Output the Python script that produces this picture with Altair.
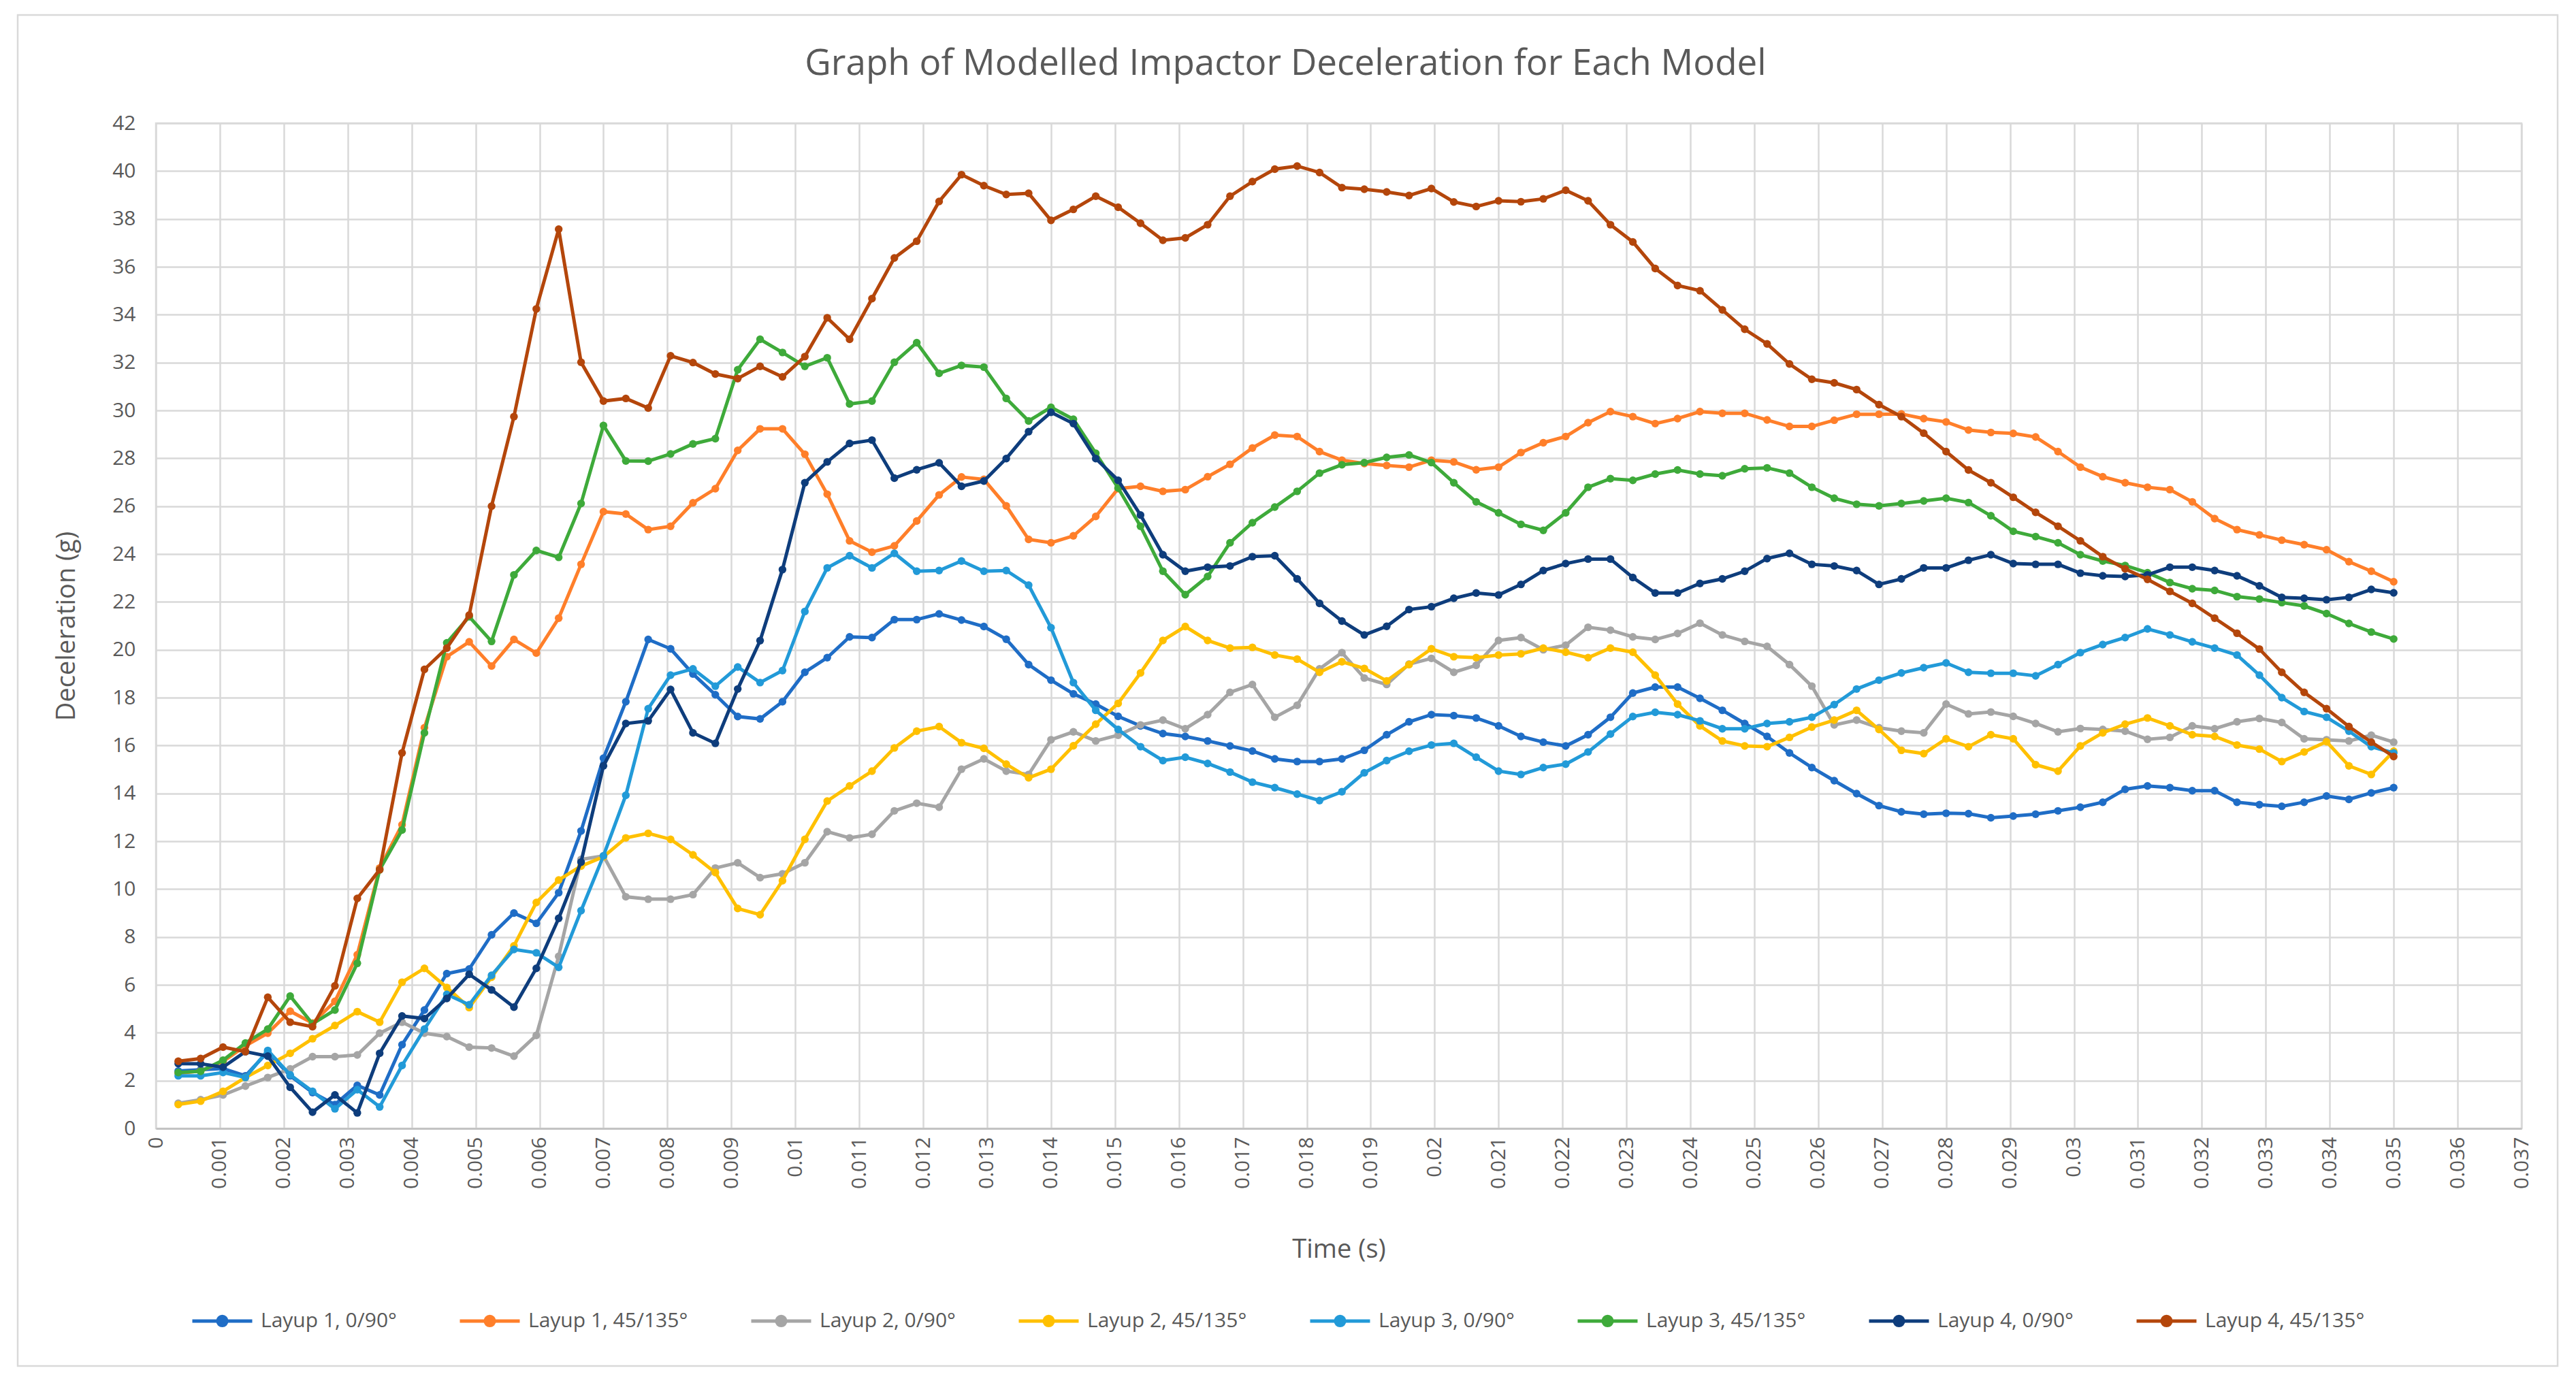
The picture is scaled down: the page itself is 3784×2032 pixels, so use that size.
import altair as alt
import pandas as pd

# ---------------- data ----------------
time_s = [0.00035, 0.0007, 0.00105, 0.0014, 0.00175, 0.0021, 0.00245, 0.0028, 0.00315, 0.0035,
          0.00385, 0.0042, 0.00455, 0.0049, 0.00525, 0.0056, 0.00595, 0.0063, 0.00665, 0.007,
          0.00735, 0.0077, 0.00805, 0.0084, 0.00875, 0.0091, 0.00945, 0.0098, 0.01015, 0.0105,
          0.01085, 0.0112, 0.01155, 0.0119, 0.01225, 0.0126, 0.01295, 0.0133, 0.01365, 0.014,
          0.01435, 0.0147, 0.01505, 0.0154, 0.01575, 0.0161, 0.01645, 0.0168, 0.01715, 0.0175,
          0.01785, 0.0182, 0.01855, 0.0189, 0.01925, 0.0196, 0.01995, 0.0203, 0.02065, 0.021,
          0.02135, 0.0217, 0.02205, 0.0224, 0.02275, 0.0231, 0.02345, 0.0238, 0.02415, 0.0245,
          0.02485, 0.0252, 0.02555, 0.0259, 0.02625, 0.0266, 0.02695, 0.0273, 0.02765, 0.028,
          0.02835, 0.0287, 0.02905, 0.0294, 0.02975, 0.0301, 0.03045, 0.0308, 0.03115, 0.0315,
          0.03185, 0.0322, 0.03255, 0.0329, 0.03325, 0.0336, 0.03395, 0.0343, 0.03465, 0.035]

layup1_0_90 = [2.4, 2.45, 2.5, 2.2, 3.2, 2.2, 1.5, 1.0, 1.8, 1.4,
               3.5, 4.95, 6.47, 6.66, 8.09, 9.0, 8.57, 9.85, 12.43, 15.47,
               17.83, 20.43, 20.04, 18.99, 18.12, 17.21, 17.11, 17.83, 19.06, 19.67,
               20.54, 20.51, 21.26, 21.26, 21.5, 21.24, 20.97, 20.44, 19.38, 18.73,
               18.16, 17.73, 17.22, 16.82, 16.5, 16.38, 16.19, 15.98, 15.77, 15.44,
               15.33, 15.33, 15.44, 15.8, 16.45, 16.99, 17.29, 17.25, 17.15, 16.82,
               16.38, 16.14, 15.98, 16.45, 17.18, 18.19, 18.44, 18.44, 17.97, 17.47,
               16.92, 16.38, 15.69, 15.08, 14.53, 13.99, 13.49, 13.23, 13.13, 13.17,
               13.15, 12.98, 13.05, 13.13, 13.27, 13.42, 13.63, 14.17, 14.31, 14.24,
               14.11, 14.11, 13.63, 13.53, 13.46, 13.63, 13.89, 13.75, 14.02, 14.24]

layup1_45_135 = [2.3, 2.4, 2.8, 3.45, 3.98, 4.9, 4.4, 5.31, 7.26, 10.88,
                 12.69, 16.74, 19.71, 20.33, 19.32, 20.43, 19.86, 21.32, 23.57, 25.77,
                 25.67, 25.02, 25.16, 26.14, 26.73, 28.33, 29.23, 29.23, 28.17, 26.5,
                 24.55, 24.08, 24.34, 25.38, 26.47, 27.22, 27.12, 26.01, 24.61, 24.47,
                 24.76, 25.57, 26.73, 26.83, 26.62, 26.69, 27.23, 27.75, 28.43, 28.97,
                 28.91, 28.28, 27.92, 27.78, 27.7, 27.63, 27.92, 27.85, 27.52, 27.63,
                 28.24, 28.65, 28.91, 29.49, 29.95, 29.74, 29.45, 29.66, 29.95, 29.88,
                 29.88, 29.6, 29.33, 29.33, 29.59, 29.84, 29.84, 29.85, 29.66, 29.52,
                 29.18, 29.08, 29.04, 28.89, 28.28, 27.63, 27.23, 26.98, 26.79, 26.69,
                 26.18, 25.48, 25.02, 24.8, 24.58, 24.39, 24.18, 23.68, 23.28, 22.84]

layup2_0_90 = [1.05, 1.2, 1.4, 1.77, 2.13, 2.49, 3.0, 3.0, 3.07, 3.98,
               4.44, 3.98, 3.84, 3.4, 3.36, 3.02, 3.89, 7.19, 11.24, 11.39,
               9.68, 9.58, 9.58, 9.77, 10.88, 11.1, 10.48, 10.64, 11.1, 12.4,
               12.14, 12.29, 13.27, 13.59, 13.42, 15.01, 15.44, 14.93, 14.79, 16.24,
               16.57, 16.19, 16.43, 16.86, 17.06, 16.7, 17.29, 18.22, 18.55, 17.18,
               17.68, 19.2, 19.88, 18.82, 18.55, 19.4, 19.64, 19.06, 19.35, 20.39,
               20.51, 20.0, 20.19, 20.94, 20.82, 20.54, 20.43, 20.68, 21.11, 20.62,
               20.35, 20.14, 19.38, 18.48, 16.86, 17.06, 16.74, 16.6, 16.53, 17.73,
               17.32, 17.4, 17.22, 16.92, 16.57, 16.71, 16.67, 16.6, 16.26, 16.34,
               16.82, 16.7, 16.99, 17.13, 16.96, 16.28, 16.24, 16.19, 16.43, 16.14]

layup2_45_135 = [1.0, 1.14, 1.55, 2.13, 2.63, 3.14, 3.75, 4.3, 4.88, 4.44,
                 6.11, 6.69, 5.89, 5.05, 6.32, 7.63, 9.44, 10.38, 10.96, 11.35,
                 12.14, 12.33, 12.08, 11.43, 10.69, 9.19, 8.93, 10.35, 12.08, 13.68,
                 14.31, 14.93, 15.9, 16.6, 16.79, 16.12, 15.88, 15.22, 14.65, 15.01,
                 15.99, 16.89, 17.76, 19.03, 20.39, 20.97, 20.39, 20.07, 20.1, 19.78,
                 19.61, 19.06, 19.5, 19.22, 18.7, 19.38, 20.04, 19.71, 19.67, 19.78,
                 19.83, 20.07, 19.9, 19.67, 20.07, 19.9, 18.94, 17.73, 16.82, 16.19,
                 15.98, 15.95, 16.34, 16.77, 17.06, 17.47, 16.67, 15.8, 15.66, 16.28,
                 15.95, 16.45, 16.28, 15.2, 14.93, 15.98, 16.53, 16.89, 17.15, 16.82,
                 16.45, 16.38, 16.02, 15.85, 15.33, 15.73, 16.16, 15.15, 14.79, 15.76]

layup3_0_90 = [2.2, 2.2, 2.34, 2.13, 3.26, 2.24, 1.55, 0.82, 1.62, 0.9,
               2.63, 4.15, 5.6, 5.17, 6.4, 7.48, 7.34, 6.73, 9.1, 11.39,
               13.92, 17.54, 18.94, 19.2, 18.48, 19.28, 18.63, 19.13, 21.6, 23.42,
               23.93, 23.42, 24.03, 23.28, 23.31, 23.71, 23.28, 23.31, 22.7, 20.92,
               18.63, 17.47, 16.67, 15.95, 15.37, 15.51, 15.25, 14.89, 14.47, 14.24,
               13.97, 13.7, 14.07, 14.86, 15.37, 15.76, 16.02, 16.09, 15.51, 14.93,
               14.79, 15.08, 15.22, 15.73, 16.48, 17.21, 17.39, 17.29, 17.03, 16.7,
               16.7, 16.92, 16.99, 17.18, 17.71, 18.36, 18.73, 19.03, 19.25, 19.45,
               19.06, 19.02, 19.02, 18.91, 19.38, 19.88, 20.22, 20.51, 20.87, 20.62,
               20.33, 20.07, 19.78, 18.94, 18.0, 17.42, 17.18, 16.6, 15.95, 15.69]

layup3_45_135 = [2.34, 2.39, 2.85, 3.57, 4.15, 5.53, 4.37, 4.95, 6.9, 10.81,
                 12.47, 16.53, 20.29, 21.38, 20.35, 23.13, 24.15, 23.86, 26.11, 29.37,
                 27.89, 27.88, 28.18, 28.6, 28.82, 31.7, 32.97, 32.42, 31.84, 32.2,
                 30.27, 30.39, 32.01, 32.83, 31.55, 31.88, 31.81, 30.5, 29.56, 30.13,
                 29.63, 28.21, 26.76, 25.16, 23.28, 22.3, 23.06, 24.47, 25.31, 25.96,
                 26.62, 27.38, 27.73, 27.82, 28.04, 28.14, 27.82, 26.98, 26.18, 25.72,
                 25.24, 24.99, 25.72, 26.79, 27.15, 27.08, 27.34, 27.51, 27.34, 27.27,
                 27.56, 27.6, 27.38, 26.79, 26.33, 26.08, 26.01, 26.11, 26.22, 26.33,
                 26.15, 25.6, 24.95, 24.73, 24.47, 23.97, 23.71, 23.52, 23.22, 22.81,
                 22.55, 22.48, 22.22, 22.12, 21.97, 21.83, 21.51, 21.1, 20.74, 20.45]

layup4_0_90 = [2.71, 2.7, 2.56, 3.21, 3.02, 1.72, 0.68, 1.4, 0.65, 3.14,
               4.7, 4.59, 5.43, 6.44, 5.79, 5.07, 6.69, 8.78, 11.13, 15.15,
               16.92, 17.03, 18.34, 16.53, 16.09, 18.36, 20.38, 23.35, 26.98, 27.85,
               28.62, 28.76, 27.17, 27.52, 27.81, 26.83, 27.05, 27.99, 29.11, 29.92,
               29.45, 27.99, 27.08, 25.63, 23.97, 23.28, 23.45, 23.5, 23.89, 23.93,
               22.96, 21.94, 21.2, 20.62, 20.98, 21.68, 21.8, 22.15, 22.37, 22.29,
               22.73, 23.31, 23.6, 23.79, 23.79, 23.02, 22.37, 22.37, 22.77, 22.96,
               23.28, 23.81, 24.03, 23.57, 23.5, 23.31, 22.73, 22.96, 23.42, 23.42,
               23.74, 23.97, 23.6, 23.57, 23.57, 23.2, 23.09, 23.06, 23.13, 23.45,
               23.45, 23.31, 23.09, 22.67, 22.19, 22.15, 22.09, 22.19, 22.52, 22.38]

layup4_45_135 = [2.81, 2.92, 3.4, 3.21, 5.48, 4.44, 4.25, 5.96, 9.61, 10.81,
                 15.69, 19.18, 20.07, 21.45, 26.0, 29.74, 34.24, 37.57, 32.01, 30.39,
                 30.5, 30.1, 32.28, 32.0, 31.52, 31.33, 31.84, 31.4, 32.25, 33.87,
                 32.97, 34.67, 36.37, 37.07, 38.73, 39.85, 39.39, 39.02, 39.07, 37.94,
                 38.4, 38.95, 38.49, 37.82, 37.11, 37.21, 37.76, 38.95, 39.56, 40.08,
                 40.21, 39.94, 39.31, 39.24, 39.13, 38.98, 39.27, 38.71, 38.52, 38.76,
                 38.72, 38.84, 39.2, 38.76, 37.76, 37.04, 35.93, 35.22, 35.0, 34.2,
                 33.39, 32.78, 31.94, 31.3, 31.15, 30.87, 30.24, 29.74, 29.05, 28.28,
                 27.51, 26.98, 26.37, 25.74, 25.16, 24.55, 23.89, 23.38, 22.94, 22.44,
                 21.94, 21.32, 20.69, 20.03, 19.06, 18.22, 17.54, 16.79, 16.14, 15.54]

series_names = ["Layup 1, 0/90°", "Layup 1, 45/135°", "Layup 2, 0/90°", "Layup 2, 45/135°",
                "Layup 3, 0/90°", "Layup 3, 45/135°", "Layup 4, 0/90°", "Layup 4, 45/135°"]
series_values = [layup1_0_90, layup1_45_135, layup2_0_90, layup2_45_135,
                 layup3_0_90, layup3_45_135, layup4_0_90, layup4_45_135]
series_colors = ["#1F6DC6", "#FF7F2A", "#A5A5A5", "#FFC000",
                 "#229AD8", "#3EAA3A", "#0E3D7C", "#B4460B"]

x_ticks = [round(0.001 * k, 3) for k in range(38)]
y_ticks = list(range(0, 43, 2))

rows = []
for name, vals in zip(series_names, series_values):
    for t, v in zip(time_s, vals):
        rows.append({"time": t, "decel": v, "series": name})
df = pd.DataFrame(rows)

FONT = "Open Sans"
TXT = "#595959"
GRID = "#D9D9D9"

W, H = 3475, 1477

color_scale = alt.Scale(domain=series_names, range=series_colors)
legend = alt.Legend(
    title=None, orient="none", direction="horizontal", legendX=51, legendY=1713,
    columns=8,
    symbolType="M-1,0L1,0M-0.15,0A0.15,0.15,0,1,0,0.15,0A0.15,0.15,0,1,0,-0.15,0Z",
    symbolSize=7744, symbolStrokeWidth=5, labelFontSize=30, labelFont=FONT, labelColor=TXT,
    labelOffset=10, columnPadding=82, labelLimit=600,
)

x_enc = alt.X("time:Q", scale=alt.Scale(domain=[0, 0.037], nice=False, zero=True),
              axis=alt.Axis(values=x_ticks, format=".3~f", labelAngle=270, title="Time (s)",
                            titlePadding=71, labelPadding=12, ticks=False,
                            domainColor="#BFBFBF", domainWidth=2.5))
y_enc = alt.Y("decel:Q", scale=alt.Scale(domain=[0, 42], nice=False),
              axis=alt.Axis(values=y_ticks, title="Deceleration (g)", domain=False, ticks=False,
                            labelPadding=30, titlePadding=47))

layers = []
for name in series_names:
    layers.append(
        alt.Chart(df)
        .transform_filter(alt.datum.series == name)
        .mark_line(strokeWidth=5, point=alt.OverlayMarkDef(filled=True, size=130))
        .encode(x=x_enc, y=y_enc,
                color=alt.Color("series:N", scale=color_scale, legend=legend))
    )

border = alt.Chart(pd.DataFrame({"a": [0]})).mark_rect(
    fillOpacity=0, stroke=GRID, strokeWidth=2.5
).encode(x=alt.value(-203), x2=alt.value(3528), y=alt.value(-159), y2=alt.value(1826))

chart = alt.layer(border, *layers).properties(
    width=W, height=H,
    title=alt.Title("Graph of Modelled Impactor Deceleration for Each Model",
                    fontSize=53, font=FONT, color=TXT, fontWeight="normal",
                    anchor="middle", dx=-78, offset=-100),
    padding={"left": 221, "top": 173, "right": 72, "bottom": 352},
    autosize=alt.AutoSizeParams(type="none"),
    background="white",
).configure_view(stroke=GRID, strokeWidth=2.5).configure_axis(
    labelFont=FONT, labelFontSize=30, labelColor=TXT,
    titleFont=FONT, titleFontSize=38, titleColor=TXT, titleFontWeight="normal",
    gridColor=GRID, gridWidth=2.5,
)

chart.save("out.html", embed_options={"renderer": "svg", "actions": False})
